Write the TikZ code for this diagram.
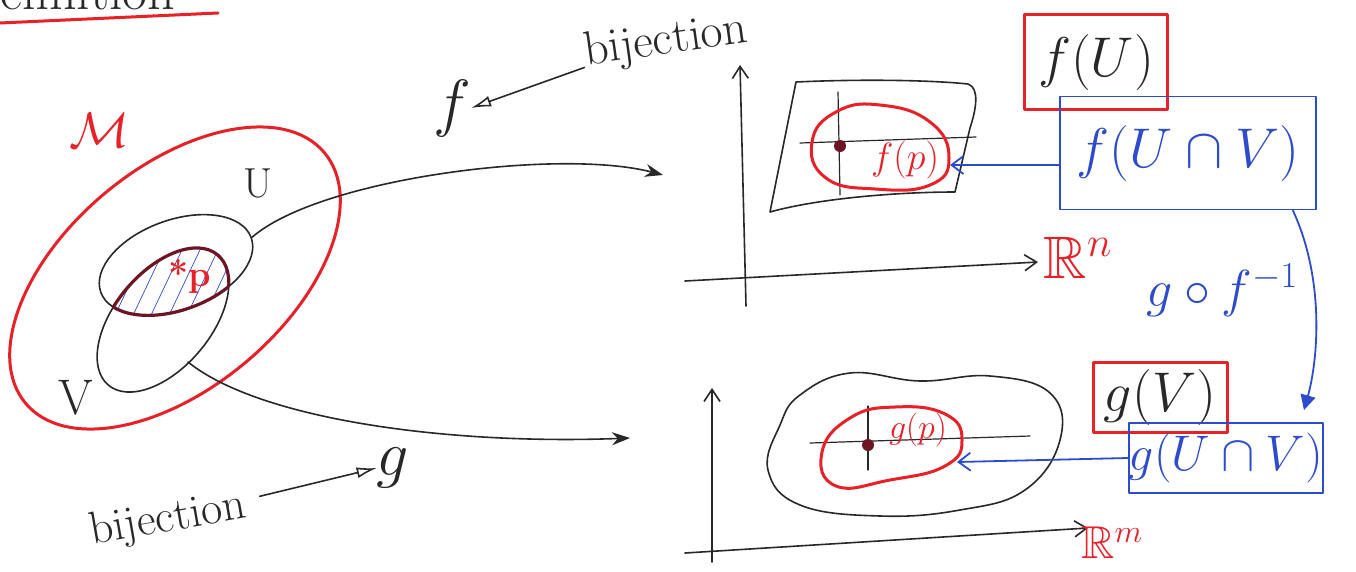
\RequirePackage{fix-cm}
\documentclass[tikz,border=0pt]{standalone}
\usepackage{amssymb}
\usetikzlibrary{arrows.meta,shapes.geometric}
\definecolor{pen}{RGB}{40,40,40}
\definecolor{rpen}{RGB}{232,32,40}
\definecolor{bpen}{RGB}{45,75,205}
\definecolor{lensc}{RGB}{110,20,35}
\newcommand{\fsz}[1]{\fontsize{#1}{#1}\selectfont}
\begin{document}
\begin{tikzpicture}[x=1pt,y=-1pt,
  line cap=round, line join=round,
  ink/.style={draw=pen, line width=1.6pt},
  redink/.style={draw=rpen, line width=3pt},
  blueink/.style={draw=bpen, line width=1.8pt},
  axisarrow/.style={draw=pen, line width=1.6pt, -{Straight Barb[length=12pt,width=16pt]}},
  maparrow/.style={draw=pen, line width=1.6pt, -{Stealth[length=18pt,width=13pt]}},
  lbl/.style={inner sep=0pt, text=pen},
  redlbl/.style={inner sep=0pt, text=rpen},
  bluelbl/.style={inner sep=0pt, text=bpen},
  redbox/.style={draw=rpen, line width=3pt, inner sep=0pt, text=pen},
  bluebox/.style={draw=bpen, line width=1.8pt, inner sep=0pt, text=bpen},
  blob/.style={ellipse, inner sep=0pt},
]
\useasboundingbox (0,0) rectangle (1356,571);
\fill[white] (0,0) rectangle (1356,571);

% cut heading
\node[lbl, font=\fsz{54}, anchor=base west] (def) at (-38,9) {Definition};
\draw[redink] (0,23) -- (218,13);

% manifold
\node[blob, draw=rpen, line width=3pt, minimum width=390pt, minimum height=220pt, rotate=40] (Mell) at (175,278) {};
\node[redlbl, font=\fsz{50}] (M) at (100,130) {$\mathcal{M}$};

% lens hatch
\begin{scope}
  \clip[rotate around={20:(176,265)}] (176,265) ellipse [x radius=80pt, y radius=45pt];
  \clip[rotate around={50:(163,320)}] (163,320) ellipse [x radius=85pt, y radius=48pt];
  \foreach \i in {90,108,...,240} \draw[bpen, line width=0.7pt] (\i,330) -- ++(45,-95);
\end{scope}

\node[blob, draw=pen, line width=1.6pt, minimum width=160pt, minimum height=90pt, rotate=20] (U) at (176,265) {};
\node[blob, draw=pen, line width=1.6pt, minimum width=170pt, minimum height=96pt, rotate=50] (V) at (163,320) {};

% lens outline
\begin{scope}
  \clip[rotate around={20:(176,265)}] (176,265) ellipse [x radius=80pt, y radius=45pt];
  \draw[lensc, line width=3.2pt, rotate around={50:(163,320)}] (163,320) ellipse [x radius=85pt, y radius=48pt];
\end{scope}
\begin{scope}
  \clip[rotate around={50:(163,320)}] (163,320) ellipse [x radius=85pt, y radius=48pt];
  \draw[lensc, line width=3.2pt, rotate around={20:(176,265)}] (176,265) ellipse [x radius=80pt, y radius=45pt];
\end{scope}

\node[redlbl, font=\fsz{36}\bfseries] (p) at (190,276) {*p};
\node[lbl, font=\fsz{42}] (Ulbl) at (258,183) {U};
\node[lbl, font=\fsz{50}] (Vlbl) at (76,398) {V};

% maps
\coordinate (fend) at (663,175);
\coordinate (gstart) at (188,362);
\coordinate (gend) at (630,438);
\draw[maparrow] (U.east) .. controls (320,178) and (560,148) .. (fend);
\draw[maparrow] (gstart) .. controls (260,420) and (450,445) .. (gend);

\node[lbl, font=\fsz{64}] (f) at (452,108) {$f$};
\node[lbl, font=\fsz{48}, rotate=8] (bij1) at (666,42) {bijection};
\draw[ink, -{Latex[open,length=20pt,width=11pt]}] ([yshift=-14pt]bij1.west) -- (f.east);

\node[lbl, font=\fsz{64}] (g) at (393,468) {$g$};
\node[lbl, font=\fsz{46}, rotate=10] (bij2) at (168,520) {bijection};
\draw[ink, -{Latex[open,length=20pt,width=11pt]}] ([xshift=14pt,yshift=10pt]bij2.east) -- (g.west);

% ---- top chart
\coordinate (a1b) at (746,306);
\coordinate (a1t) at (740,65);
\coordinate (a2l) at (685,281);
\coordinate (a2r) at (1038,262);
\draw[axisarrow] (a1b) -- (a1t);
\draw[axisarrow] (a2l) -- (a2r);
\node[redlbl, font=\fsz{60}] (Rn) at (1078,258) {$\mathbb{R}^n$};

\draw[ink] (770,212) -- (796,82) .. controls (860,79) and (930,80) .. (968,84)
  .. controls (980,88) and (976,110) .. (970,128) -- (955,192)
  .. controls (900,192) and (820,198) .. (770,212) -- cycle;
\draw[pen, line width=1.2pt] (838,92) -- (840,195);
\draw[pen, line width=1.2pt] (800,143) -- (976,137);
\draw[redink] plot[smooth cycle, tension=0.8] coordinates {(812,142) (836,112) (880,105) (930,122) (949,158) (930,185) (875,189) (826,178)};
\coordinate (fpR) at (950,165);
\fill[lensc] (840,146) circle (6pt);
\node[redlbl, font=\fsz{38}] (fp) at (905,160) {$f(p)$};

\node[redbox, font=\fsz{56}, minimum width=143pt, minimum height=95pt] (fU) at (1096,62) {$f(U)$};
\node[bluebox, font=\fsz{56}, minimum width=256pt, minimum height=113pt] (fUV) at (1188,153) {$f(U\cap V)$};
\draw[blueink, -{Straight Barb[length=12pt,width=18pt]}] ([yshift=-12pt]fUV.west) -- (fpR);

% ---- bottom chart
\coordinate (b1b) at (712,562);
\coordinate (b1t) at (712,388);
\coordinate (b2l) at (685,553);
\coordinate (b2r) at (1088,528);
\draw[axisarrow] (b1b) -- (b1t);
\draw[axisarrow] (b2l) -- (b2r);
\node[redlbl, font=\fsz{46}] (Rm) at (1112,543) {$\mathbb{R}^m$};

\draw[ink] plot[smooth cycle, tension=0.7] coordinates {(800,395) (850,373) (920,381) (990,376) (1050,393) (1060,440) (1025,490) (960,510) (880,516) (800,505) (768,470) (780,425)};
\draw[pen, line width=1.2pt] (868,406) -- (868,470);
\draw[pen, line width=1.2pt] (810,443) -- (1030,436);
\draw[redink] plot[smooth cycle, tension=0.8] coordinates {(822,452) (850,418) (895,407) (945,414) (962,440) (945,466) (890,480) (836,486)};
\coordinate (gpR) at (957,462);
\fill[lensc] (868,445) circle (6pt);
\node[redlbl, font=\fsz{34}] (gp) at (918,430) {$g(p)$};

\node[redbox, font=\fsz{56}, minimum width=134pt, minimum height=70pt] (gV) at (1160,397) {$g(V)$};
\node[bluebox, font=\fsz{50}, minimum width=192pt, minimum height=70pt] (gUV) at (1226,458) {$g(U\cap V)$};
\draw[blueink, -{Straight Barb[length=12pt,width=18pt]}] (gUV.west) -- (gpR);

% transition map
\draw[blueink, -{Triangle[length=15pt,width=15pt]}] ([xshift=-24pt]fUV.south east) .. controls (1325,280) and (1318,360) .. ([xshift=-20pt,yshift=12pt]gUV.north east);
\node[bluelbl, font=\fsz{52}] (gf) at (1222,290) {$g\circ f^{-1}$};
\end{tikzpicture}
\end{document}
